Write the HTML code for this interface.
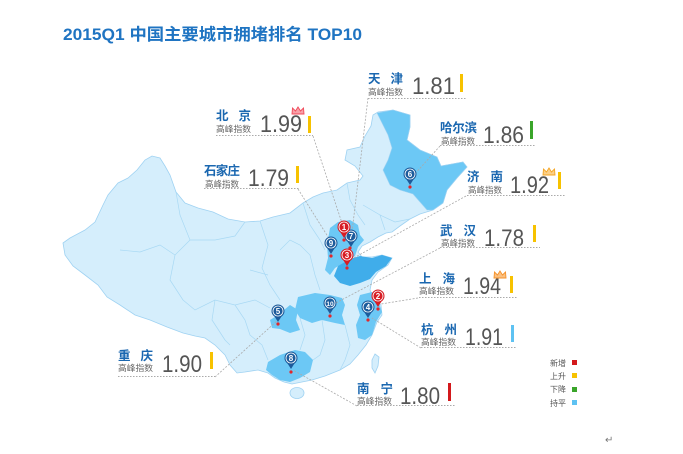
<!DOCTYPE html>
<html><head><meta charset="utf-8"><style>
html,body{margin:0;padding:0;background:#fff;}
svg{display:block;}
text{font-family:"Liberation Sans","Noto Sans CJK SC",sans-serif;}
.nm{font-size:12.5px;font-weight:bold;fill:#1a67b0;}
.sb{font-size:8.5px;fill:#666;}
.vl{font-size:24px;fill:#555;}
.ul{stroke:#aaa;stroke-width:1;stroke-dasharray:1.5 1.5;fill:none;}
.ld{stroke:#aaa;stroke-width:0.8;stroke-dasharray:2 1.5;fill:none;}
.pv{fill:none;stroke:#a9d9f4;stroke-width:0.7;}
.lg{font-size:8px;fill:#555;}
</style></head><body>
<svg width="683" height="454" viewBox="0 0 683 454" xmlns="http://www.w3.org/2000/svg">
<rect width="683" height="454" fill="#fff"/>
<text x="63" y="40" style="font-size:16.5px;font-weight:bold;fill:#1f74c2;" textLength="299" lengthAdjust="spacingAndGlyphs">2015Q1 中国主要城市拥堵排名 TOP10</text>

<!-- China outline -->
<path fill="#d5eefc" stroke="#9fd2f2" stroke-width="0.8" d="M63,243 L70,238 L85,230 L95,222 L103,205 L108,195 L118,183 L128,178 L137,170 L145,160 L152,156 L160,158 L165,166 L170,175 L176,192 L185,203 L198,208 L213,212 L228,219 L245,222 L260,221 L273,217 L290,213 L303,203 L313,197 L323,193 L337,190 L347,183 L360,180 L363,176 L355,166 L345,160 L347,150 L360,147 L365,136 L371,126 L373,115 L378,112 L393,110 L410,115 L410,127 L407,140 L420,150 L437,157 L441,166 L463,162 L467,167 L457,178 L447,190 L443,203 L433,210 L420,214 L410,219 L400,226 L392,232 L386,233 L378,237 L370,242 L362,246 L358,252 L362,257 L372,257 L382,255 L392,258 L388,265 L378,272 L372,280 L370,290 L374,298 L381,305 L382,315 L377,322 L372,335 L366,345 L358,355 L350,364 L340,370 L325,376 L312,380 L302,382 L292,384 L284,382 L275,378 L268,373 L258,370 L245,372 L237,373 L230,365 L225,355 L215,345 L205,338 L195,336 L183,333 L167,327 L150,320 L135,315 L120,305 L107,297 L98,285 L85,275 L73,266 L65,255 Z"/>
<ellipse cx="297" cy="393" rx="7" ry="5.5" fill="#d5eefc" stroke="#9fd2f2" stroke-width="0.8"/>
<path fill="#d5eefc" stroke="#9fd2f2" stroke-width="0.8" d="M375,354 L379,357 L378,366 L375,373 L372,368 L372,360 Z"/>

<!-- internal borders -->
<path class="pv" d="M176,192 L180,215 L190,240 L175,255 L170,280 L183,300 L195,310 L215,300 L235,305 L255,300 L270,308"/>
<path class="pv" d="M120,250 L140,252 L160,245 L175,255"/>
<path class="pv" d="M190,240 L215,240 L235,236 L245,222"/>
<path class="pv" d="M215,300 L212,320 L225,340 L230,345"/>
<path class="pv" d="M235,305 L245,320 L250,335 L262,345 L268,360"/>
<path class="pv" d="M260,221 L268,245 L262,268 L270,285 L280,300"/>
<path class="pv" d="M280,250 L290,240 L300,245 L310,255 L315,275 L320,290"/>
<path class="pv" d="M303,203 L310,225 L320,240 L325,250"/>
<path class="pv" d="M300,318 L305,335 L300,350"/>
<path class="pv" d="M322,320 L325,340 L320,355 L313,360"/>
<path class="pv" d="M345,325 L350,345 L345,360 L340,370"/>
<path class="pv" d="M347,183 L350,200 L358,215 L365,225"/>
<path class="pv" d="M380,215 L395,222 L410,219"/>
<path class="pv" d="M363,205 L380,215 L385,230"/>
<path class="pv" d="M250,270 L268,275"/>

<!-- highlighted provinces -->
<path fill="#6cc8f5" stroke="#9fd2f2" stroke-width="0.6" d="M377,113 L393,110 L410,115 L410,127 L407,140 L420,150 L437,157 L441,166 L463,162 L467,167 L457,178 L447,190 L443,203 L433,210 L427,210 L413,194 L400,190 L390,185 L383,170 L388,160 L392,148 L388,135 L383,125 Z"/>
<path fill="#6cc8f5" d="M330,228 L338,222 L350,220 L358,225 L360,235 L364,240 L358,247 L355,256 L345,262 L335,268 L330,275 L325,270 L328,258 L327,245 Z"/>
<path fill="#40adea" d="M338,266 L350,259 L360,256 L372,258 L382,255 L392,258 L386,266 L376,272 L370,279 L360,283 L350,286 L340,283 L334,276 Z"/>
<path fill="#6cc8f5" d="M298,297 L315,293 L330,295 L342,298 L345,305 L342,315 L345,325 L335,323 L322,320 L312,323 L300,318 L295,310 Z"/>
<path fill="#6cc8f5" d="M290,305 L298,310 L296,320 L300,330 L290,333 L280,329 L272,328 L270,320 L278,315 Z"/>
<path fill="#6cc8f5" d="M360,295 L372,292 L378,300 L382,312 L376,322 L372,335 L365,340 L358,338 L356,325 L360,315 L357,305 Z"/>
<path fill="#6cc8f5" d="M268,362 L280,355 L295,350 L305,352 L313,360 L310,372 L300,378 L290,382 L280,380 L272,375 L266,370 Z"/>

<!-- leader lines -->
<path class="ld" d="M368,98 L352,232"/>
<path class="ld" d="M313,136 L343,226"/>
<path class="ld" d="M298,189 L330,240"/>
<path class="ld" d="M440,146 L413,176"/>
<path class="ld" d="M466,196 L350,260"/>
<path class="ld" d="M440,248 L332,305"/>
<path class="ld" d="M418,298 L381,304"/>
<path class="ld" d="M421,348 L372,318"/>
<path class="ld" d="M215,377 L278,320"/>
<path class="ld" d="M357,406 L293,370"/>

<!-- pins -->
<g font-size="8" font-weight="bold" text-anchor="middle" fill="#fff">
<g transform="translate(331,243)"><circle cx="0" cy="13" r="1.6" fill="#e2262b"/><path d="M-5,3 L0,11 L5,3 Z" fill="#1c5b9b"/><circle r="6.5" fill="#1c5b9b"/><circle r="5" fill="none" stroke="#fff" stroke-width="0.8"/><text y="3">9</text></g>
<g transform="translate(351,236)"><circle cx="-1" cy="12" r="1.6" fill="#e2262b"/><path d="M-5,3 L0,11 L5,3 Z" fill="#1c5b9b"/><circle r="6.5" fill="#1c5b9b"/><circle r="5" fill="none" stroke="#fff" stroke-width="0.8"/><text y="3">7</text></g>
<g transform="translate(344,227)"><circle cx="0" cy="13" r="1.6" fill="#e2262b"/><path d="M-5,3 L0,11 L5,3 Z" fill="#d71d24"/><circle r="6.5" fill="#d71d24"/><circle r="5" fill="none" stroke="#fff" stroke-width="0.8"/><text y="3">1</text></g>
<g transform="translate(347,255)"><circle cx="0" cy="13" r="1.6" fill="#e2262b"/><path d="M-5,3 L0,11 L5,3 Z" fill="#d71d24"/><circle r="6.5" fill="#d71d24"/><circle r="5" fill="none" stroke="#fff" stroke-width="0.8"/><text y="3">3</text></g>
<g transform="translate(410,174)"><circle cx="0" cy="13" r="1.6" fill="#e2262b"/><path d="M-5,3 L0,11 L5,3 Z" fill="#1c5b9b"/><circle r="6.5" fill="#1c5b9b"/><circle r="5" fill="none" stroke="#fff" stroke-width="0.8"/><text y="3">6</text></g>
<g transform="translate(368,307)"><circle cx="0" cy="13" r="1.6" fill="#e2262b"/><path d="M-5,3 L0,11 L5,3 Z" fill="#1c5b9b"/><circle r="6.5" fill="#1c5b9b"/><circle r="5" fill="none" stroke="#fff" stroke-width="0.8"/><text y="3">4</text></g>
<g transform="translate(378,296)"><circle cx="0" cy="13" r="1.6" fill="#e2262b"/><path d="M-5,3 L0,11 L5,3 Z" fill="#d71d24"/><circle r="6.5" fill="#d71d24"/><circle r="5" fill="none" stroke="#fff" stroke-width="0.8"/><text y="3">2</text></g>
<g transform="translate(330,303)"><circle cx="0" cy="13" r="1.6" fill="#e2262b"/><path d="M-5,3 L0,11 L5,3 Z" fill="#1c5b9b"/><circle r="6.5" fill="#1c5b9b"/><circle r="5" fill="none" stroke="#fff" stroke-width="0.8"/><text y="2.8" font-size="6.5">10</text></g>
<g transform="translate(278,311)"><circle cx="0" cy="13" r="1.6" fill="#e2262b"/><path d="M-5,3 L0,11 L5,3 Z" fill="#1c5b9b"/><circle r="6.5" fill="#1c5b9b"/><circle r="5" fill="none" stroke="#fff" stroke-width="0.8"/><text y="3">5</text></g>
<g transform="translate(291,358)"><circle cx="0" cy="14" r="1.6" fill="#e2262b"/><path d="M-5,3 L0,11 L5,3 Z" fill="#1c5b9b"/><circle r="6.5" fill="#1c5b9b"/><circle r="5" fill="none" stroke="#fff" stroke-width="0.8"/><text y="3">8</text></g>
</g>

<!-- labels -->
<g transform="translate(368,71)">
<text class="nm" x="0" y="12" textLength="35" lengthAdjust="spacing">天津</text>
<text class="sb" x="0" y="24" textLength="35" lengthAdjust="spacingAndGlyphs">高峰指数</text>
<text class="vl" x="44" y="23" textLength="43" lengthAdjust="spacingAndGlyphs">1.81</text>
<rect x="92" y="3" width="3" height="18" fill="#f7c200"/>
<line class="ul" x1="0" y1="27.5" x2="99" y2="27.5"/>
</g>
<g transform="translate(216,108)">
<text class="nm" x="0" y="12" textLength="35" lengthAdjust="spacing">北京</text>
<text class="sb" x="0" y="24" textLength="35" lengthAdjust="spacingAndGlyphs">高峰指数</text>
<text class="vl" x="44" y="24" textLength="42" lengthAdjust="spacingAndGlyphs">1.99</text>
<rect x="92" y="8" width="3" height="17" fill="#f7c200"/>
<path d="M76,6 L76.5,0 L79.5,3 L82,-1 L84.5,3 L87.5,0 L88,6 Z" fill="#f7a0a8" stroke="#f04a5a" stroke-width="0.9"/>
<line class="ul" x1="0" y1="27.5" x2="97" y2="27.5"/>
</g>
<g transform="translate(204,163)">
<text class="nm" x="0" y="12" textLength="36" lengthAdjust="spacing">石家庄</text>
<text class="sb" x="1" y="24" textLength="34" lengthAdjust="spacingAndGlyphs">高峰指数</text>
<text class="vl" x="44" y="23" textLength="41" lengthAdjust="spacingAndGlyphs">1.79</text>
<rect x="92" y="3" width="3" height="17" fill="#f7c200"/>
<line class="ul" x1="0" y1="25.5" x2="95" y2="25.5"/>
</g>
<g transform="translate(440,120)">
<text class="nm" x="0" y="12" textLength="37" lengthAdjust="spacing">哈尔滨</text>
<text class="sb" x="1" y="24" textLength="34" lengthAdjust="spacingAndGlyphs">高峰指数</text>
<text class="vl" x="43" y="23" textLength="41" lengthAdjust="spacingAndGlyphs">1.86</text>
<rect x="90" y="1" width="3" height="18" fill="#3aa52a"/>
<line class="ul" x1="0" y1="25.5" x2="96" y2="25.5"/>
</g>
<g transform="translate(467,169)">
<text class="nm" x="0" y="12" textLength="36" lengthAdjust="spacing">济南</text>
<text class="sb" x="1" y="24" textLength="34" lengthAdjust="spacingAndGlyphs">高峰指数</text>
<text class="vl" x="43" y="24" textLength="39" lengthAdjust="spacingAndGlyphs">1.92</text>
<path d="M76,6 L76.5,0 L79.5,3 L82,-1 L84.5,3 L87.5,0 L88,6 Z" fill="#fbd08a" stroke="#f5a623" stroke-width="0.9"/>
<rect x="91" y="3" width="3" height="17" fill="#f7c200"/>
<line class="ul" x1="0" y1="26.5" x2="98" y2="26.5"/>
</g>
<g transform="translate(440,222)">
<text class="nm" x="0" y="13" textLength="36" lengthAdjust="spacing">武汉</text>
<text class="sb" x="1" y="24" textLength="34" lengthAdjust="spacingAndGlyphs">高峰指数</text>
<text class="vl" x="44" y="24" textLength="40" lengthAdjust="spacingAndGlyphs">1.78</text>
<rect x="93" y="3" width="3" height="17" fill="#f7c200"/>
<line class="ul" x1="0" y1="25.5" x2="100" y2="25.5"/>
</g>
<g transform="translate(419,270)">
<text class="nm" x="0" y="13" textLength="36" lengthAdjust="spacing">上海</text>
<text class="sb" x="0" y="24" textLength="35" lengthAdjust="spacingAndGlyphs">高峰指数</text>
<text class="vl" x="44" y="24" textLength="38" lengthAdjust="spacingAndGlyphs">1.94</text>
<path d="M75,8 L75.5,2 L78.5,5 L81,1 L83.5,5 L86.5,2 L87,8 Z" fill="#fbc080" stroke="#f5922a" stroke-width="0.9"/>
<rect x="91" y="6" width="3" height="17" fill="#f7c200"/>
<line class="ul" x1="0" y1="27.5" x2="99" y2="27.5"/>
</g>
<g transform="translate(421,322)">
<text class="nm" x="0" y="12" textLength="36" lengthAdjust="spacing">杭州</text>
<text class="sb" x="0" y="23" textLength="35" lengthAdjust="spacingAndGlyphs">高峰指数</text>
<text class="vl" x="44" y="23" textLength="38" lengthAdjust="spacingAndGlyphs">1.91</text>
<rect x="90" y="3" width="3" height="17" fill="#5ec2f2"/>
<line class="ul" x1="0" y1="25.5" x2="96" y2="25.5"/>
</g>
<g transform="translate(118,348)">
<text class="nm" x="0" y="12" textLength="35" lengthAdjust="spacing">重庆</text>
<text class="sb" x="0" y="23" textLength="35" lengthAdjust="spacingAndGlyphs">高峰指数</text>
<text class="vl" x="44" y="24" textLength="40" lengthAdjust="spacingAndGlyphs">1.90</text>
<rect x="92" y="4" width="3" height="17" fill="#f7c200"/>
<line class="ul" x1="0" y1="28.5" x2="97" y2="28.5"/>
</g>
<g transform="translate(357,380)">
<text class="nm" x="0" y="13" textLength="36" lengthAdjust="spacing">南宁</text>
<text class="sb" x="0" y="24" textLength="35" lengthAdjust="spacingAndGlyphs">高峰指数</text>
<text class="vl" x="43" y="24" textLength="40" lengthAdjust="spacingAndGlyphs">1.80</text>
<rect x="91" y="3" width="3" height="18" fill="#d3191c"/>
<line class="ul" x1="0" y1="25.5" x2="98" y2="25.5"/>
</g>

<!-- legend -->
<text class="lg" x="550" y="366">新增</text><rect x="572" y="360" width="5" height="5" fill="#d3191c"/>
<text class="lg" x="550" y="379">上升</text><rect x="572" y="373" width="5" height="5" fill="#f7c200"/>
<text class="lg" x="550" y="392">下降</text><rect x="572" y="387" width="5" height="5" fill="#3aa52a"/>
<text class="lg" x="550" y="406">持平</text><rect x="572" y="400" width="5" height="5" fill="#5ec2f2"/>

<text x="605" y="443" style="font-size:10px;fill:#777;">↵</text>
</svg>
</body></html>
